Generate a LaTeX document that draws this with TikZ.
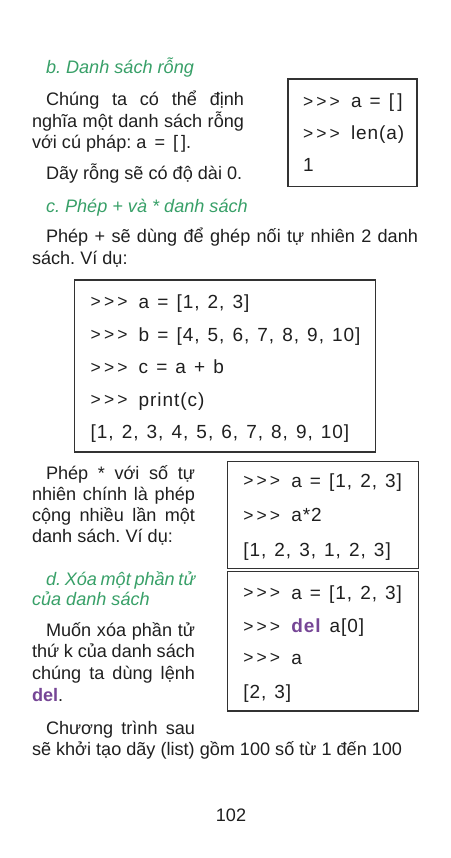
\documentclass[tikz,border=0pt]{standalone}
\usepackage{fontspec}
\setmainfont{Liberation Sans}
\newfontfamily\codefont[LetterSpace=5,WordSpace=1.3]{Liberation Sans}
\definecolor{headgreen}{RGB}{56,160,104}
\definecolor{delpurple}{RGB}{118,70,150}
\definecolor{boxgray}{RGB}{50,50,50}
\tikzset{
  txt/.style={anchor=base west, inner sep=0pt, outer sep=0pt, font=\fontsize{18.1}{20}\selectfont, text=black!88},
  head/.style={txt, text=headgreen, font=\fontsize{18.1}{20}\selectfont\itshape},
  code/.style={anchor=base west, inner sep=0pt, outer sep=0pt, font=\fontsize{19}{20}\codefont, text=black!88},
  codebox/.style={draw=boxgray, line width=1.4pt}
}
\newcommand{\jl}[2]{\makebox[#1pt][s]{#2}}
\newcommand{\chev}{\makebox[13.3pt][l]{\raisebox{0.6pt}{\scalebox{0.92}{>}}}}
\newcommand{\pr}{\chev\chev\chev}
\begin{document}
\frenchspacing
\begin{tikzpicture}[x=1pt,y=-1pt]
\useasboundingbox[fill=white] (0,0) rectangle (450,858);

% section b
\node[head] (hb) at (46,74) {b. Danh sách rỗng};
\node[txt] (b1) at (46,105.7) {\jl{198}{Chúng ta có thể định}};
\node[txt] (b2) at (32,127.3) {\jl{212}{nghĩa một danh sách rỗng}};
\node[txt] (b3) at (32,149) {với cú pháp: a \,=\, [\,].};
\node[txt] (b4) at (46,180) {Dãy rỗng sẽ có độ dài 0.};
\draw[codebox] (288,79) rectangle (417,186.7);
\node[code] (k1) at (303,108) {\pr{} a = [\,]};
\node[code] (k2) at (303,140) {\pr{} len(a)};
\node[code] (k3) at (303,171.7) {1};

% section c
\node[head] (hc) at (46,212.7) {c. Phép + và * danh sách};
\node[txt] (c1) at (46,243) {\jl{372}{Phép + sẽ dùng để ghép nối tự nhiên 2 danh}};
\node[txt] (c2) at (32,265) {sách. Ví dụ:};
\draw[codebox] (74.7,280) rectangle (375.3,452);
\node[code] (p1) at (90.7,308.3) {\pr{} a = [1, 2, 3]};
\node[code] (p2) at (90.7,341.3) {\pr{} b = [4, 5, 6, 7, 8, 9, 10]};
\node[code] (p3) at (90.7,373.8) {\pr{} c = a + b};
\node[code] (p4) at (90.7,406.5) {\pr{} print(c)};
\node[code] (p5) at (90.7,438.5) {[1, 2, 3, 4, 5, 6, 7, 8, 9, 10]};

\node[txt] (m1) at (46,479.3) {\jl{149}{Phép * với số tự}};
\node[txt] (m2) at (32,500.3) {\jl{163}{nhiên chính là phép}};
\node[txt] (m3) at (32,521.3) {\jl{163}{cộng nhiều lần một}};
\node[txt] (m4) at (32,542.3) {danh sách. Ví dụ:};
\draw[codebox] (227.7,461.7) rectangle (418.3,568.3);
\node[code] (q1) at (243.3,487.3) {\pr{} a = [1, 2, 3]};
\node[code] (q2) at (243.3,521.7) {\pr{} a*2};
\node[code] (q3) at (243.3,556) {[1, 2, 3, 1, 2, 3]};

% section d
\node[head] (hd1) at (46,585) {\jl{149}{d. Xóa một phần tử}};
\node[head] (hd2) at (32,605) {của danh sách};
\node[txt] (d1) at (46,636.7) {\jl{149}{Muốn xóa phần tử}};
\node[txt] (d2) at (32,657.8) {\jl{163}{thứ k của danh sách}};
\node[txt] (d3) at (32,679.5) {\jl{163}{chúng ta dùng lệnh}};
\node[txt] (d4) at (32,701.2) {\textcolor{delpurple}{\textbf{del}}.};
\draw[codebox] (227.7,571.7) rectangle (418.3,711);
\node[code] (r1) at (243.3,599.3) {\pr{} a = [1, 2, 3]};
\node[code] (r2) at (243.3,632.7) {\pr{} \textcolor{delpurple}{\textbf{del}} a[0]};
\node[code] (r3) at (243.3,664.5) {\pr{} a};
\node[code] (r4) at (243.3,698.3) {[2, 3]};

\node[txt] (e1) at (46,734.3) {\jl{149}{Chương trình sau}};
\node[txt] (e2) at (32,755.5) {sẽ khởi tạo dãy (list) gồm 100 số từ 1 đến 100};

\node[txt, anchor=base] (pg) at (231,821.7) {102};
\end{tikzpicture}
\end{document}
